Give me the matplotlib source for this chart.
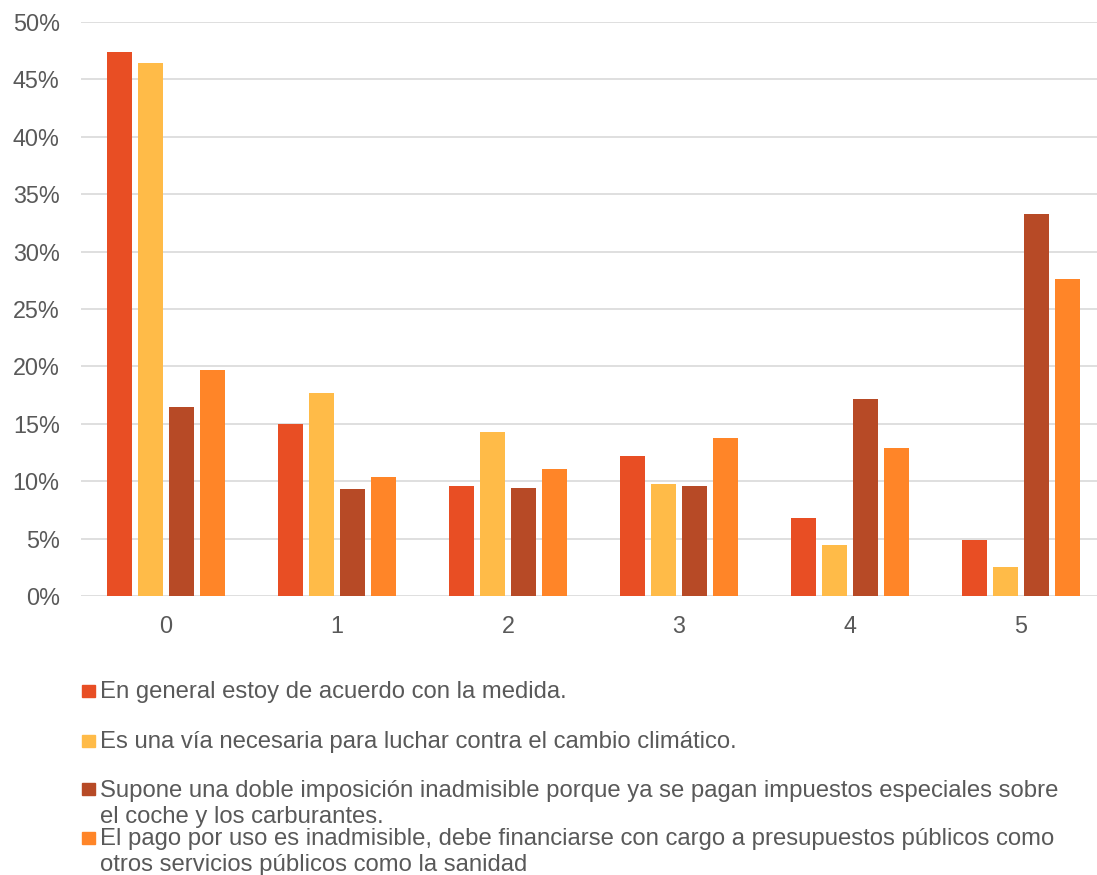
import matplotlib
matplotlib.use("Agg")
import matplotlib.pyplot as plt
import matplotlib.patches as mpatches
import numpy as np

plt.rcParams['font.family'] = ['Liberation Sans', 'DejaVu Sans']

categories = ["0", "1", "2", "3", "4", "5"]
serie_acuerdo = [47.4, 15.0, 9.6, 12.2, 6.8, 4.9]
serie_via = [46.4, 17.7, 14.3, 9.75, 4.4, 2.55]
serie_doble = [16.5, 9.3, 9.4, 9.6, 17.15, 33.3]
serie_pago = [19.7, 10.4, 11.1, 13.8, 12.85, 27.6]
labels = [
    "En general estoy de acuerdo con la medida.",
    "Es una vía necesaria para luchar contra el cambio climático.",
    "Supone una doble imposición inadmisible porque ya se pagan impuestos especiales sobre\nel coche y los carburantes.",
    "El pago por uso es inadmisible, debe financiarse con cargo a presupuestos públicos como\notros servicios públicos como la sanidad",
]
yticks = [0, 5, 10, 15, 20, 25, 30, 35, 40, 45, 50]

colors = ["#E84E24", "#FFBB48", "#B74A26", "#FF8528"]
series = [serie_acuerdo, serie_via, serie_doble, serie_pago]

W, H = 1097, 875
fig = plt.figure(figsize=(W / 100, H / 100), dpi=100)
left, right, top, bottom = 80.5, 1097, 22, 596
ax = fig.add_axes([left / W, 1 - bottom / H, (right - left) / W, (bottom - top) / H])

x = np.arange(len(categories))
step = 0.181
width = 0.142
for i, (vals, c) in enumerate(zip(series, colors)):
    ax.bar(x + (i - 1.5) * step, vals, width=width, color=c, zorder=3)

group_px = 171.0
ax.set_xlim(-0.5, -0.5 + (right - left) / group_px)
ax.set_ylim(0, 50)
ax.set_yticks(yticks)
ax.set_yticklabels([f"{t}%" for t in yticks])
ax.set_xticks(x)
ax.set_xticklabels(categories)
ax.yaxis.grid(True, color="#D9D9D9", linewidth=1.2, zorder=0)
ax.set_axisbelow(True)
for s in ax.spines.values():
    s.set_visible(False)
ax.tick_params(axis="both", length=0, labelsize=16.8, colors="#595959")
ax.tick_params(axis="y", pad=15)
ax.tick_params(axis="x", pad=14)

# legend (manual, Excel-style spacing)
baselines = [698.3, 748.3, 796.7, 845.0]
line_h = 26.6
fs = 17.2
for lab, c, b in zip(labels, colors, baselines):
    sq_w, sq_h = 13, 12
    fig.patches.append(mpatches.Rectangle((82 / W, 1 - (b - 1.5) / H), sq_w / W, sq_h / H,
                                          transform=fig.transFigure, color=c, figure=fig))
    for k, line in enumerate(lab.split("\n")):
        yb = min(b + k * line_h, 870.5)
        fig.text(100 / W, 1 - yb / H, line, fontsize=fs, color="#595959",
                 va="baseline", ha="left")

fig.savefig("out.png", dpi=100)
